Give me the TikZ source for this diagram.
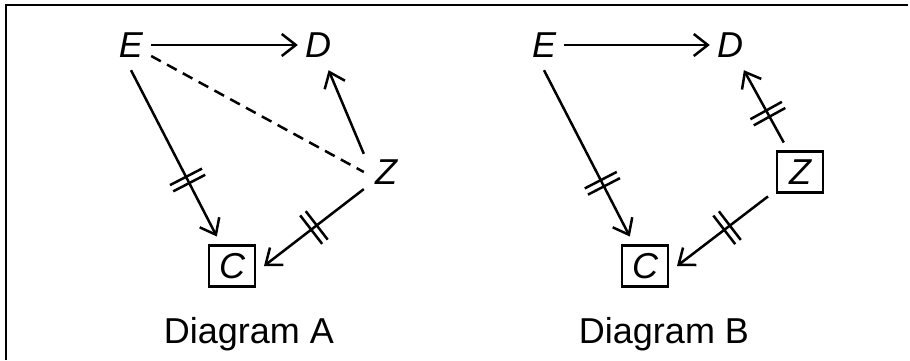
\documentclass[tikz,border=0pt]{standalone}
\usepackage{fontspec}
\setmainfont{Liberation Sans}
\usetikzlibrary{arrows.meta,decorations.markings}

\tikzset{
  varnode/.style={font=\fontsize{36}{40}\selectfont\itshape,inner sep=0pt,
    minimum width=40pt,minimum height=50pt},
  boxnode/.style={varnode,draw,line width=2.2pt,minimum width=46pt,
    minimum height=41pt,outer sep=9pt},
  capnode/.style={font=\fontsize{36}{40}\selectfont,inner sep=0pt,anchor=base},
  cause/.style={line width=2.5pt,-{Straight Barb[length=14pt,width=22pt]}},
  cutmark/.style={postaction={decorate,decoration={markings,
    mark=at position #1 with {\draw[line width=2.5pt,-]
      (-3.5pt,-18pt) -- (-3.5pt,18pt) (3.5pt,-18pt) -- (3.5pt,18pt);}}}},
}

\begin{document}
\begin{tikzpicture}[x=1pt,y=-1pt]
  \useasboundingbox (0,0) rectangle (910,360);

  % Frame, open at the right and bottom.
  \draw[line width=2.5pt] (6,360) -- (6,5) -- (908,5);

  % Diagram A
  \node[varnode] (EA) at (131,45) {E};
  \node[varnode] (DA) at (318,45) {D};
  \node[varnode,minimum width=44pt,minimum height=36pt] (ZA) at (386,172) {Z};
  \node[boxnode] (CA) at (232,266) {C};
  \draw[cause] (EA) -- (DA);
  \draw[cause,cutmark=0.66] (EA.south) -- (CA);
  \draw[cause] (ZA.north west) -- (DA);
  \draw[cause,cutmark=0.5] (ZA) -- (CA.east);
  \draw[line width=2.5pt,dash pattern=on 11pt off 7pt] (EA) -- (ZA.west);
  \node[capnode] (labA) at (249,343) {Diagram A};

  % Diagram B
  \node[varnode] (EB) at (544,45) {E};
  \node[varnode] (DB) at (730,45) {D};
  \node[boxnode] (ZB) at (800,172) {Z};
  \node[boxnode] (CB) at (645,266) {C};
  \draw[cause] (EB) -- (DB);
  \draw[cause,cutmark=0.68] (EB.south) -- (CB);
  \draw[cause,cutmark=0.4] (ZB) -- (DB);
  \draw[cause,cutmark=0.45] (ZB) -- (CB.east);
  \node[capnode] (labB) at (664,343) {Diagram B};
\end{tikzpicture}
\end{document}
